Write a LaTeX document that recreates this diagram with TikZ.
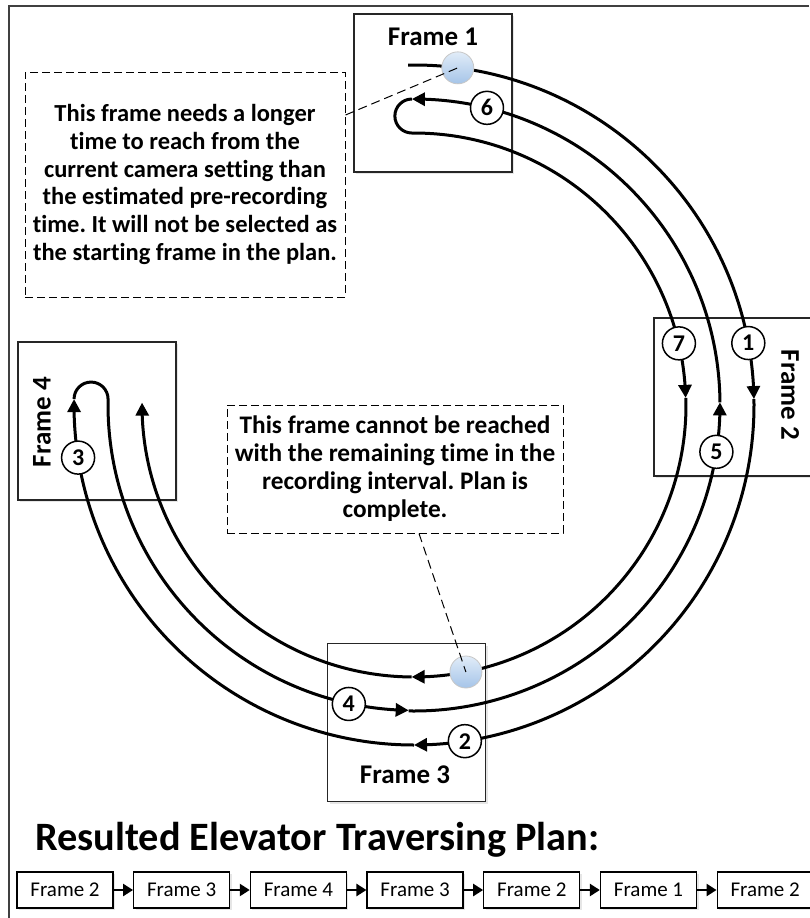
\documentclass[tikz,border=0pt]{standalone}
\usepackage{fontspec}
\setmainfont[Ligatures=NoCommon]{Carlito}
\frenchspacing
\usetikzlibrary{positioning, arrows.meta, bending, shadows, calc}

\definecolor{marktop}{RGB}{225,236,248}
\definecolor{markbot}{RGB}{165,196,232}

\begin{document}
\begin{tikzpicture}[x=1pt, y=1pt,
  framebox/.style={draw=black!85, line width=1.6pt, fill=white, minimum width=158pt, minimum height=158pt,
                   drop shadow={shadow xshift=2pt, shadow yshift=-2pt, opacity=0.2}},
  framelbl/.style={font=\fontsize{27}{30}\selectfont\bfseries},
  track/.style={line width=3pt},
  tip/.style={-{Triangle[length=13pt, width=13pt]}},
  num/.style={circle, draw, line width=1.5pt, fill=white, minimum size=33pt, inner sep=0pt,
              font=\fontsize{24}{24}\selectfont\bfseries},
  marker/.style={circle, draw=black!22, line width=0.8pt, top color=marktop, bottom color=markbot,
                 minimum size=32pt, inner sep=0pt},
  note/.style={draw, dash pattern=on 8pt off 4pt, line width=1pt, align=center, inner sep=0pt,
               font=\fontsize{24.5}{27.7}\selectfont\bfseries},
  leader/.style={dash pattern=on 9pt off 5pt, line width=1pt},
  planbox/.style={draw, line width=1.3pt, fill=white, minimum width=96pt, minimum height=36pt, inner sep=0pt,
                  font=\fontsize{21}{24}\selectfont,
                  drop shadow={shadow xshift=2pt, shadow yshift=-2pt, opacity=0.2}},
  planarr/.style={-{Triangle[length=10pt, width=12pt]}, line width=2.4pt},
]
\useasboundingbox (0,0) rectangle (809,-918);

% outer border
\draw[black!75, line width=1.6pt] (809,-6) -- (9,-6) -- (9,-918);

% Frames
\node[framebox] (f1) at (433,-93) {};
\node[framebox] (f2) at (733,-397) {};
\node[framebox] (f3) at (406.5,-722.5) {};
\node[framebox] (f4) at (97,-421) {};

\node[framelbl] (f1lbl) at (433,-37) {Frame 1};
\node[framelbl, rotate=-90] (f2lbl) at (790,-395) {Frame 2};
\node[framelbl] (f3lbl) at (405,-775) {Frame 3};
\node[framelbl, rotate=90] (f4lbl) at (42,-422) {Frame 4};

% Traversing path around the centre
\coordinate (c) at (414,-405);

% outer track: Frame 1 -> Frame 2 -> Frame 3 -> Frame 4
\draw[track, tip] ([shift={(91:340)}]c) arc[start angle=91, end angle=1, radius=340];
\draw[track, tip] ([shift={(1:340)}]c) arc[start angle=1, end angle=-90, radius=340];
\draw[track, tip] ([shift={(-90:340)}]c) arc[start angle=-90, end angle=-181, radius=340];

% turn in Frame 4, middle track back to Frame 3 -> Frame 2 -> Frame 1
\draw[track, tip] ([shift={(-181:340)}]c) arc[start angle=180, end angle=0, radius=17]
  arc[start angle=179, end angle=269, radius=306];
\draw[track, tip] ([shift={(269:306)}]c) arc[start angle=269, end angle=360.5, radius=306];
\draw[track, tip] ([shift={(0.5:306)}]c) arc[start angle=0.5, end angle=90.4, radius=306];

% turn in Frame 1, inner track Frame 2 -> Frame 3 -> Frame 4
\draw[track, tip] ([shift={(90.4:306)}]c) arc[start angle=90, end angle=270, radius=17]
  arc[start angle=90.4, end angle=1.5, radius=272];
\draw[track, tip] ([shift={(1.5:272)}]c) arc[start angle=1.5, end angle=-90.5, radius=272];
\draw[track, tip] ([shift={(-90.5:272)}]c) arc[start angle=-90.5, end angle=-180.5, radius=272];

% Step numbers
\node[num] (n1) at ([shift={(10.5:340)}]c) {1};
\node[num] (n2) at ([shift={(-81.4:340)}]c) {2};
\node[num] (n3) at ([shift={(-171.1:340)}]c) {3};
\node[num] (n4) at ([shift={(257.7:306)}]c) {4};
\node[num] (n5) at ([shift={(351.2:306)}]c) {5};
\node[num] (n6) at ([shift={(76.2:306)}]c) {6};
\node[num] (n7) at ([shift={(13.1:272)}]c) {7};

% Markers
\node[marker] (m1) at ([shift={(82.6:340)}]c) {};
\node[marker] (m2) at ([shift={(-79:272)}]c) {};

% Notes
\node[note, minimum width=320pt, minimum height=225pt] (note1) at (185,-184.5)
  {This frame needs a longer\\time to reach from the\\current camera setting than\\the estimated pre-recording\\time. It will not be selected as\\the starting frame in the plan.};
\node[note, minimum width=336pt, minimum height=128pt, font=\fontsize{25.3}{28}\selectfont\bfseries] (note2) at (395,-469)
  {This frame cannot be reached\\with the remaining time in the\\recording interval. Plan is\\complete.};

\draw[leader] ([yshift=69.5pt]note1.east) -- (m1.center);
\draw[leader] ([xshift=24pt]note2.south) -- (m2.center);

% Resulted plan
\node[font=\fontsize{40.3}{45}\selectfont\bfseries, anchor=base west, inner sep=0pt] (title) at (35,-850)
  {Resulted Elevator Traversing Plan:};

\foreach \lbl [count=\i] in {2,3,4,3,2,1,2}
  \node[planbox] (p\i) at ({65+(\i-1)*116.7},-890) {Frame \lbl};
\foreach \i/\j in {1/2,2/3,3/4,4/5,5/6,6/7}
  \draw[planarr] (p\i) -- (p\j);

\end{tikzpicture}
\end{document}
